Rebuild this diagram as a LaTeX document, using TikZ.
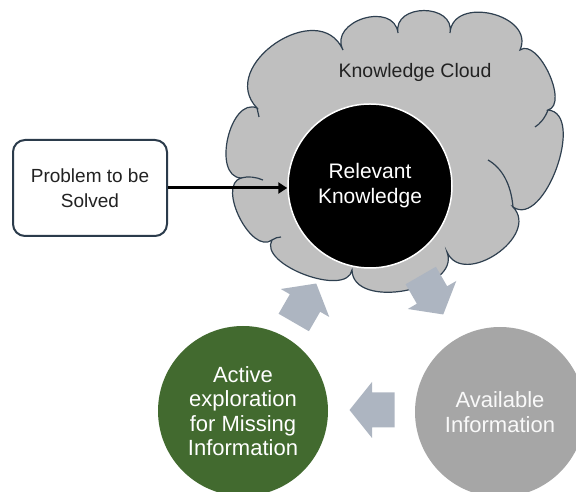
\documentclass[tikz,border=0pt]{standalone}
\usepackage{fontspec}
\setmainfont{Liberation Sans}
\usetikzlibrary{arrows.meta}
\definecolor{cloudfill}{HTML}{BFBFBF}
\definecolor{cloudline}{HTML}{2F4050}
\definecolor{boxline}{HTML}{2B3B4B}
\definecolor{blockfill}{HTML}{ADB5C1}
\definecolor{greenfill}{HTML}{426A2F}
\definecolor{grayfill}{HTML}{A6A6A6}
\definecolor{textdark}{HTML}{222222}
\begin{document}
\begin{tikzpicture}[x=1pt,y=1pt,
  cloudedge/.style={draw=cloudline, line width=1.2pt},
  circ/.style={circle, inner sep=0pt, align=center, text=white},
  bigtext/.style={font=\fontsize{22}{24.5}\selectfont},
  blockarr/.pic={\fill[blockfill] (-22.5,-17.5) -- (0,-17.5) -- (0,-28) -- (22.5,0) -- (0,28) -- (0,17.5) -- (-22.5,17.5) -- cycle;}]
\useasboundingbox (0,0) rectangle (576,492);
\clip (0,0) rectangle (576,492);
% cloud
\path[fill=cloudfill, cloudedge] (257,384)
 to[out=134,in=114,looseness=1.45] (343,442)
 to[out=117,in=97,looseness=1.45] (398,459)
 to[out=100,in=80,looseness=1.5] (450,459)
 to[out=86,in=66,looseness=1.37] (520,442)
 to[out=35,in=15,looseness=0.85] (548,382)
 to[out=-5,in=-35,looseness=0.95] (513,285)
 to[out=-46,in=-66,looseness=1.28] (447,240)
 to[out=-69,in=-89,looseness=1.08] (352,222)
 to[out=-100,in=-120,looseness=0.85] (272,252)
 to[out=217,in=197,looseness=0.95] (241,314)
 to[out=177,in=157,looseness=1.05] (257,384) -- cycle;
\draw[cloudedge] (513,285) .. controls (511,308) and (502,324) .. (488,332);
\draw[cloudedge] (548,382) .. controls (545,374) and (540,368) .. (535,365);
\draw[cloudedge] (241,314) .. controls (248,316) and (256,315) .. (263,312);
\draw[cloudedge] (272,252) .. controls (275,254) and (278,255) .. (281,255);
\draw[cloudedge] (257,384) .. controls (258,381) and (258,378) .. (259,375);
\node[font=\fontsize{19.5}{23}\selectfont, text=textdark] (cloudlabel) at (415,420) {Knowledge Cloud};
% relevant knowledge
\node[circ, fill=black, draw=white, line width=1.5pt, minimum size=164pt,
      font=\fontsize{21}{25}\selectfont] (rk) at (370,306) {Relevant\\Knowledge};
% problem box
\node[draw=boxline, line width=2pt, rounded corners=12pt, fill=white,
      minimum width=154pt, minimum height=96pt, align=center, text=textdark,
      font=\fontsize{19}{25}\selectfont] (prob) at (90,304) {Problem to be\\Solved};
\draw[line width=3pt, -{Triangle[length=9pt,width=11pt]}] (prob.east) -- (prob.east -| rk.west);
% block arrows
\pic[rotate=60] (up) at (305,189) {blockarr};
\pic[rotate=-60] (down) at (432,197) {blockarr};
\pic[rotate=180] (left) at (372,82) {blockarr};
% lower circles
\node[circ, fill=greenfill, minimum size=170pt, bigtext] (explore) at (243,81)
  {Active\\exploration\\for Missing\\Information};
\node[circ, fill=grayfill, minimum size=170pt, bigtext, text=white!95!gray] (avail) at (500,80)
  {Available\\Information};
\end{tikzpicture}
\end{document}
